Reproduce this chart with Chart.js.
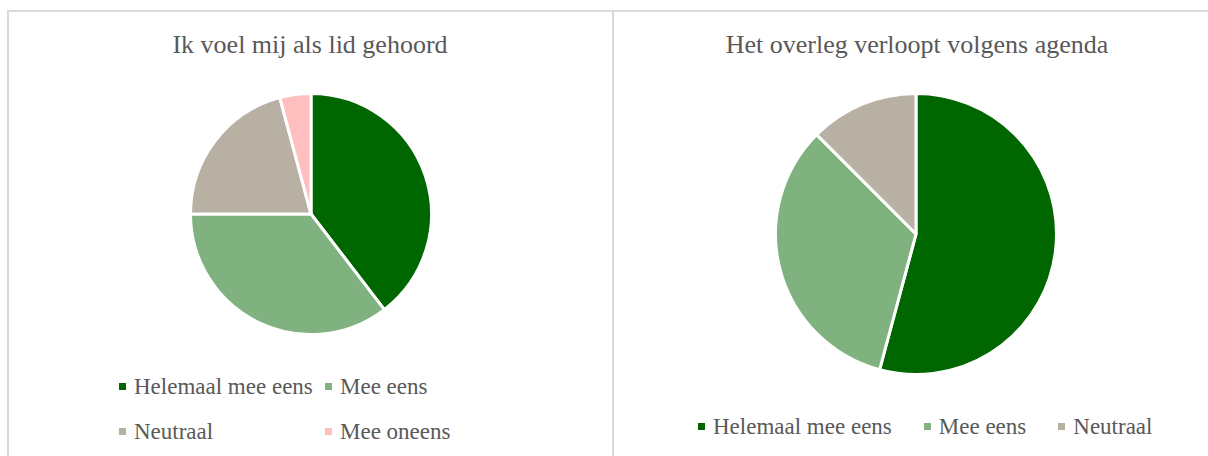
<!DOCTYPE html>
<html><head><meta charset="utf-8">
<script src="https://cdn.jsdelivr.net/npm/chart.js@4.4.1/dist/chart.umd.min.js"></script>
<style>
html,body{margin:0;padding:0;background:#fff;width:1208px;height:456px;overflow:hidden;position:relative;}
.panel{position:absolute;top:10px;height:470px;width:607px;border:2px solid #d9d9d9;box-sizing:border-box;background:#fff}
#p1{left:7px}
#p2{left:612px;width:620px}
.title{position:absolute;font-family:'Liberation Serif',serif;color:#595959;font-size:26px;line-height:26px;white-space:nowrap;transform:translateX(-50%)}
canvas{position:absolute}
.leg{position:absolute;font-family:'Liberation Serif',serif;color:#595959;font-size:23px;line-height:23px;white-space:nowrap}
.item{display:flex;align-items:center}
.sw{width:7px;height:7px;margin-right:8px;flex:none}
#leg1{left:119px;top:375px;display:grid;grid-template-columns:206px 206px;row-gap:22px}
#leg2{left:698px;top:415px;display:flex;column-gap:32px}
</style>
</head><body>
<div class="panel" id="p1"></div>
<div class="panel" id="p2"></div>
<div class="title" id="t1" style="left:310px;top:32px"></div>
<div class="title" id="t2" style="left:917px;top:32px"></div>
<canvas id="c1"></canvas>
<canvas id="c2"></canvas>
<div class="leg" id="leg1"></div>
<div class="leg" id="leg2"></div>
<script>
const title1 = "Ik voel mij als lid gehoord";
const title2 = "Het overleg verloopt volgens agenda";
const categories1 = ["Helemaal mee eens", "Mee eens", "Neutraal", "Mee oneens"];
const values1 = [19, 17, 10, 2];
const categories2 = ["Helemaal mee eens", "Mee eens", "Neutraal"];
const values2 = [13, 8, 3];
const colors = ["#006600", "#7fb27f", "#b9b0a4", "#ffbfbf"];

document.getElementById('t1').textContent = title1;
document.getElementById('t2').textContent = title2;

function buildLegend(id, cats) {
  const el = document.getElementById(id);
  cats.forEach((c, i) => {
    const it = document.createElement('div'); it.className = 'item';
    const sw = document.createElement('span'); sw.className = 'sw'; sw.style.background = colors[i];
    const tx = document.createElement('span'); tx.textContent = c;
    it.appendChild(sw); it.appendChild(tx); el.appendChild(it);
  });
}
buildLegend('leg1', categories1);
buildLegend('leg2', categories2);

function makePie(id, cx, cy, r, cats, vals) {
  const pad = 4;
  const size = 2 * r + 2 * pad;
  const cv = document.getElementById(id);
  cv.width = size; cv.height = size;
  cv.style.left = (cx - r - pad) + 'px';
  cv.style.top = (cy - r - pad) + 'px';
  cv.style.width = size + 'px'; cv.style.height = size + 'px';
  new Chart(cv, {
    type: 'pie',
    data: { labels: cats, datasets: [{ data: vals, backgroundColor: colors.slice(0, vals.length), borderColor: '#ffffff', borderWidth: 3 }] },
    options: {
      responsive: false, animation: false,
      layout: { padding: pad },
      plugins: { legend: { display: false }, tooltip: { enabled: false }, title: { display: false } }
    }
  });
}
makePie('c1', 311, 214, 122, categories1, values1);
makePie('c2', 916, 234, 142, categories2, values2);
</script>
</body></html>
